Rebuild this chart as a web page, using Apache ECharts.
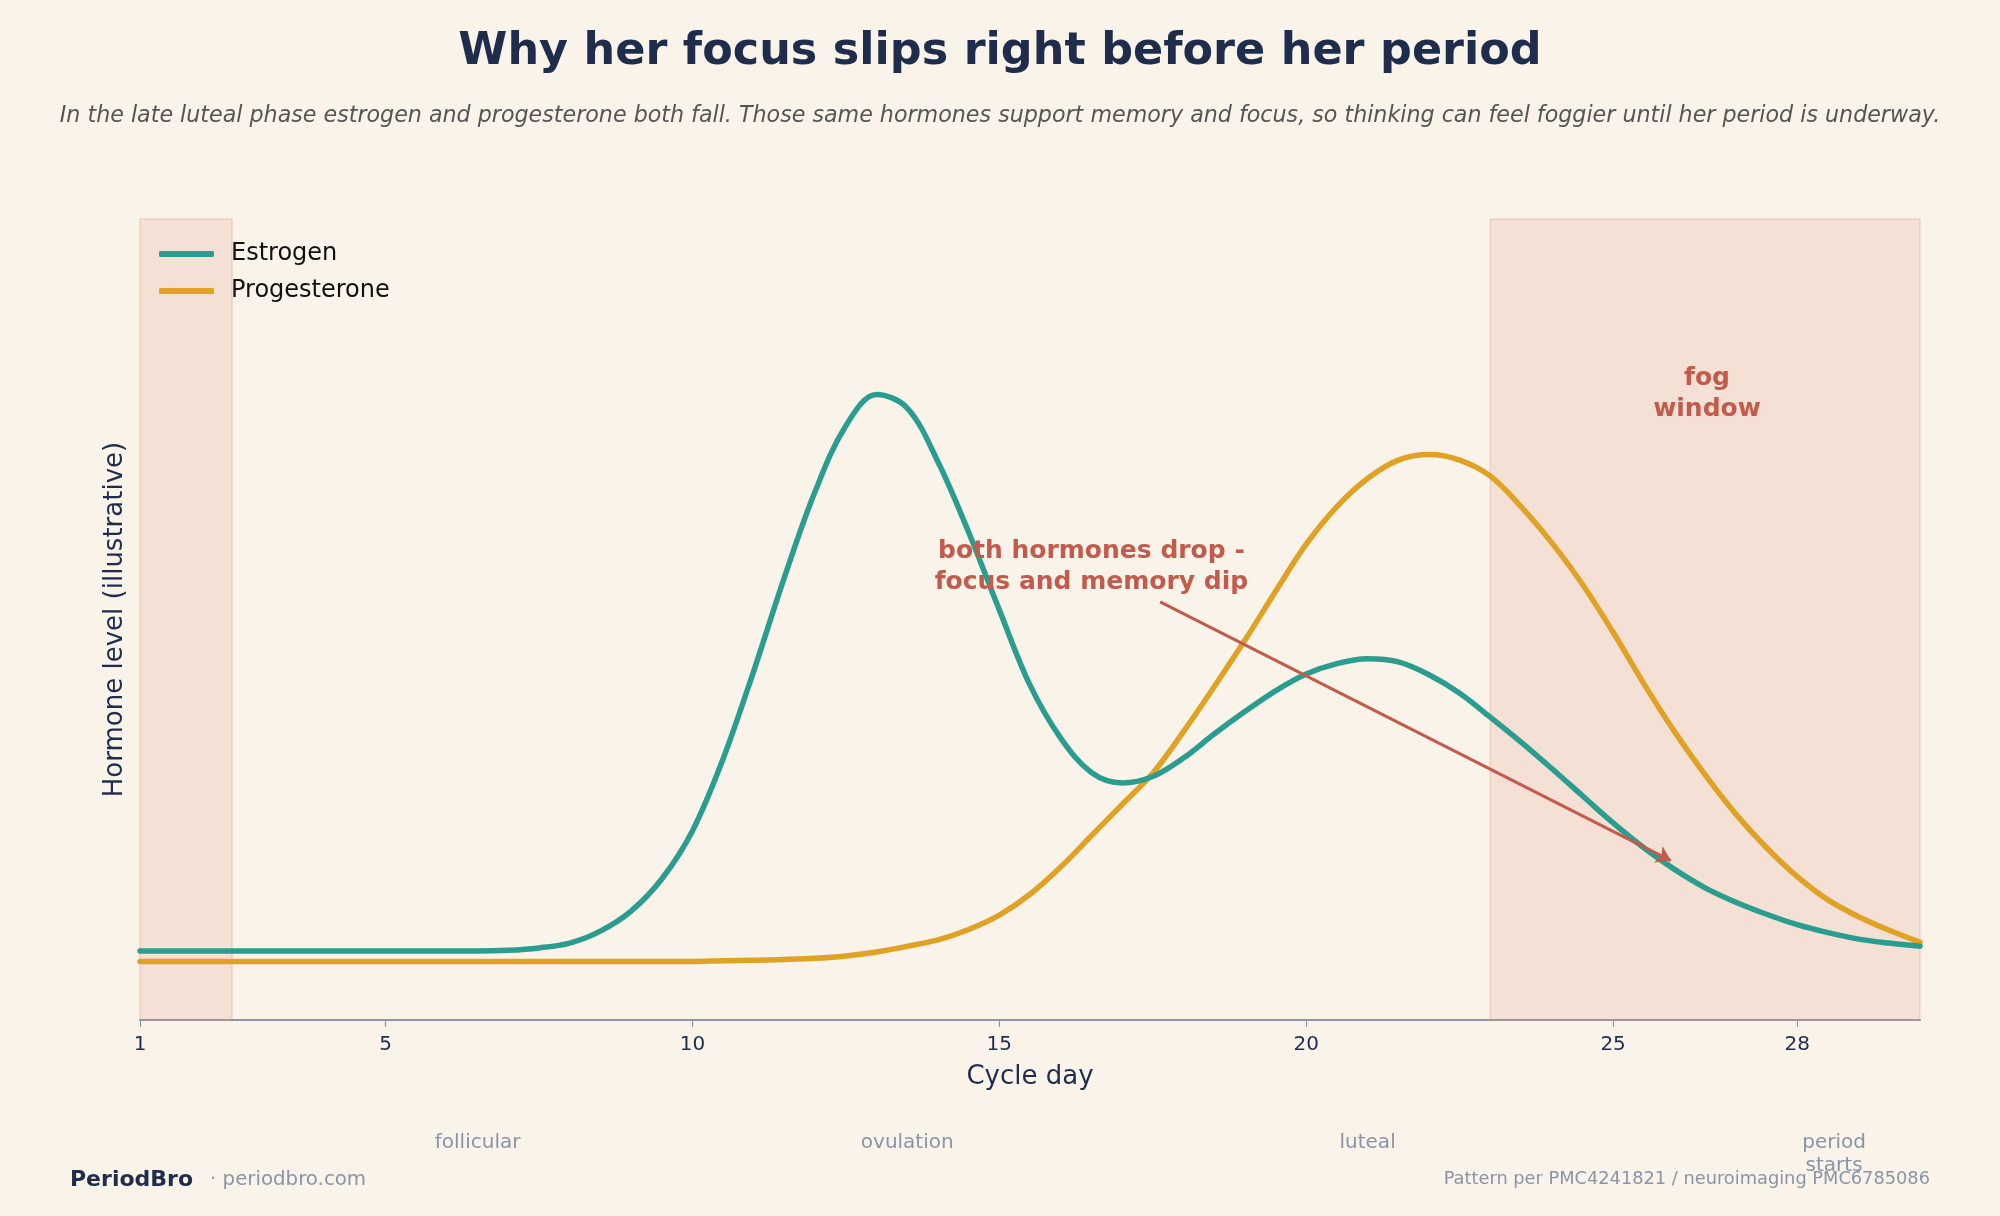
<!DOCTYPE html>
<html>
<head>
<meta charset="utf-8">
<title>Why her focus slips right before her period</title>
<script src="https://cdn.jsdelivr.net/npm/echarts@6/dist/echarts.min.js"></script>
<style>
  html, body { margin: 0; padding: 0; background: #faf3ea; }
  #chart { width: 2000px; height: 1216px; }
</style>
</head>
<body>
<div id="chart"></div>
<script>
// values every half cycle day (relative level 0-100)
const cycleDays = [
  1, 1.5, 2, 2.5, 3, 3.5, 4, 4.5, 5, 5.5, 6, 6.5, 7, 7.5, 8, 8.5, 9, 9.5, 10, 10.5,
  11, 11.5, 12, 12.5, 13, 13.5, 14, 14.5, 15, 15.5, 16, 16.5, 17, 17.5, 18, 18.5, 19, 19.5, 20, 20.5,
  21, 21.5, 22, 22.5, 23, 23.5, 24, 24.5, 25, 25.5, 26, 26.5, 27, 27.5, 28, 28.5, 29, 29.5, 30
]
const estrogen = [
  8.6, 8.6, 8.6, 8.6, 8.6, 8.6, 8.6, 8.6, 8.6, 8.6, 8.6, 8.6, 8.7, 9.0, 9.6, 11.1, 13.6, 17.6, 23.6, 32.6,
  43.6, 55.3, 66.0, 74.2, 78.1, 76.4, 69.7, 60.9, 51.2, 41.8, 35.2, 30.9, 29.6, 30.4, 32.7, 35.7, 38.5, 41.1, 43.2, 44.5,
  45.1, 44.7, 43.1, 40.8, 37.8, 34.7, 31.4, 28.0, 24.6, 21.5, 18.8, 16.5, 14.7, 13.2, 11.9, 10.9, 10.1, 9.6, 9.2
]
const progesterone = [
  7.3, 7.3, 7.3, 7.3, 7.3, 7.3, 7.3, 7.3, 7.3, 7.3, 7.3, 7.3, 7.3, 7.3, 7.3, 7.3, 7.3, 7.3, 7.3, 7.4,
  7.45, 7.55, 7.7, 8.0, 8.5, 9.2, 10.0, 11.3, 13.1, 15.7, 19.1, 23.0, 26.9, 30.8, 36.0, 41.6, 47.4, 53.5, 59.4, 64.1,
  67.6, 69.9, 70.6, 69.9, 67.9, 64.1, 59.6, 54.4, 48.4, 42.0, 36.0, 30.6, 25.7, 21.5, 17.9, 15.0, 12.9, 11.2, 9.7
]
const dayTicks = [1, 5, 10, 15, 20, 25, 28]
const phaseDays = [6.5, 13.5, 21, 28.6]
const phaseNames = ['follicular', 'ovulation', 'luteal', 'period\nstarts']
const shadedDays = [[1, 2.5], [23, 30]]
const arrowFrom = [17.62, 52.2]
const arrowTo = [25.94, 19.9]
const noteAt = [16.5, 56.6]
const fogAt = [26.53, 78.2]

const FONT = '"DejaVu Sans", sans-serif'
const NAVY = '#1f2d4d'
const RED = '#c25b4c'
const GREY = '#8a94a6'

const pairs = levels => cycleDays.map((d, i) => [d, levels[i]])

const chart = echarts.init(document.getElementById('chart'))

const option = {
  animation: false,
  backgroundColor: '#faf3ea',
  textStyle: { fontFamily: FONT },
  title: [{
    text: 'Why her focus slips right before her period',
    left: 'center',
    top: 25,
    textStyle: { fontFamily: FONT, fontSize: 44.5, fontWeight: 'bold', color: NAVY }
  }, {
    text: 'In the late luteal phase estrogen and progesterone both fall. Those same hormones support memory and focus, so thinking can feel foggier until her period is underway.',
    left: 'center',
    top: 100,
    textStyle: { fontFamily: FONT, fontSize: 22.2, fontStyle: 'italic', fontWeight: 'normal', color: '#555555' }
  }],
  legend: {
    orient: 'vertical',
    left: 154,
    top: 237,
    icon: 'roundRect',
    itemWidth: 55,
    itemHeight: 6,
    itemGap: 13,
    data: ['Estrogen', 'Progesterone'],
    textStyle: { fontFamily: FONT, fontSize: 24, color: '#111111', padding: [0, 0, 0, 12] }
  },
  grid: { left: 140, right: 80, top: 219, bottom: 196 },
  xAxis: [{
    type: 'value',
    min: 1,
    max: 30,
    name: 'Cycle day',
    nameLocation: 'middle',
    nameGap: 44,
    nameTextStyle: { fontFamily: FONT, fontSize: 26, color: NAVY },
    axisLine: { lineStyle: { color: '#8c96a8', width: 2 } },
    axisTick: { customValues: dayTicks, length: 7, lineStyle: { color: '#8c96a8', width: 1.2 } },
    axisLabel: { customValues: dayTicks, margin: 15, fontSize: 20, color: NAVY, fontFamily: FONT },
    splitLine: { show: false }
  }, {
    type: 'value',
    min: 1,
    max: 30,
    position: 'bottom',
    offset: 100,
    axisLine: { show: false },
    axisTick: { show: false },
    axisLabel: {
      customValues: phaseDays,
      margin: 11,
      fontSize: 20,
      lineHeight: 23,
      color: GREY,
      fontFamily: FONT,
      formatter: v => phaseNames[phaseDays.indexOf(v)] || ''
    },
    splitLine: { show: false }
  }],
  yAxis: {
    type: 'value',
    min: 0,
    max: 100,
    name: 'Hormone level (illustrative)',
    nameLocation: 'middle',
    nameRotate: 90,
    nameGap: 12,
    nameTextStyle: { fontFamily: FONT, fontSize: 26, color: NAVY },
    axisLine: { show: false },
    axisTick: { show: false },
    axisLabel: { show: false },
    splitLine: { show: false }
  },
  series: [{
    name: 'Estrogen',
    type: 'line',
    data: pairs(estrogen),
    smooth: 0.35,
    symbol: 'none',
    z: 3,
    lineStyle: { color: '#2a9d8f', width: 5.5, cap: 'round', join: 'round' },
    itemStyle: { color: '#2a9d8f' },
    markArea: {
      silent: true,
      itemStyle: { color: 'rgba(225,150,130,0.2)', borderColor: 'rgba(220,140,120,0.28)', borderWidth: 1.5 },
      data: shadedDays.map(d => [{ xAxis: d[0] }, { xAxis: d[1] }])
    },
    markLine: {
      silent: true,
      symbol: ['none', 'arrow'],
      symbolSize: 14,
      lineStyle: { color: RED, width: 3, type: 'solid' },
      label: { show: false },
      data: [[{ coord: arrowFrom }, { coord: arrowTo }]]
    },
    markPoint: {
      silent: true,
      symbolSize: 0,
      label: {
        show: true,
        position: 'inside',
        color: RED,
        fontFamily: FONT,
        fontWeight: 'bold',
        fontSize: 25,
        lineHeight: 31,
        align: 'center'
      },
      data: [
        { coord: noteAt, value: 'both hormones drop -\nfocus and memory dip', label: { formatter: '{c}' } },
        { coord: fogAt, value: 'fog\nwindow', label: { formatter: '{c}' } }
      ]
    }
  }, {
    name: 'Progesterone',
    type: 'line',
    data: pairs(progesterone),
    smooth: 0.35,
    symbol: 'none',
    z: 2,
    lineStyle: { color: '#e0a224', width: 5.5, cap: 'round', join: 'round' },
    itemStyle: { color: '#e0a224' }
  }],
  graphic: [{
    type: 'text',
    left: 70,
    top: 1169,
    style: { text: 'PeriodBro', font: 'bold 22px "DejaVu Sans"', fill: NAVY }
  }, {
    type: 'text',
    left: 210,
    top: 1170,
    style: { text: '· periodbro.com', font: '19.8px "DejaVu Sans"', fill: GREY }
  }, {
    type: 'text',
    right: 70,
    top: 1170,
    style: { text: 'Pattern per PMC4241821 / neuroimaging PMC6785086', font: '17.8px "DejaVu Sans"', fill: GREY }
  }]
}

chart.setOption(option)
</script>
</body>
</html>
